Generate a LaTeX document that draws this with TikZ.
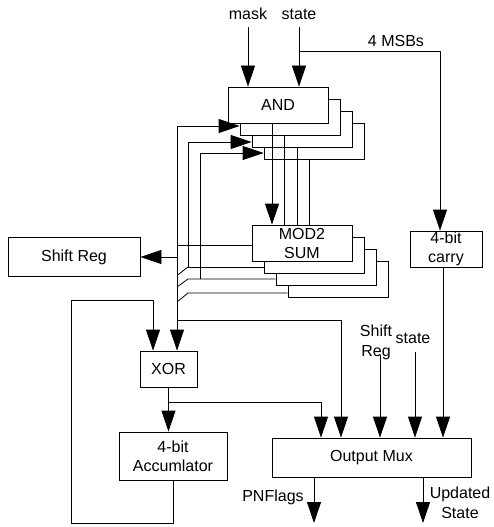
\documentclass[tikz,border=0pt]{standalone}
\usepackage{fontspec}
\setmainfont{Liberation Sans}
\usetikzlibrary{arrows.meta}
\begin{document}
\begin{tikzpicture}[x=1pt,y=-1pt,
  box/.style={draw, fill=white, line width=0.8pt, inner sep=0pt, align=center, font=\fontsize{16}{19}\selectfont},
  stk/.style={box, minimum width=100pt, minimum height=36pt},
  wire/.style={line width=0.8pt},
  arr/.style={wire, -{Triangle[length=21pt,width=14pt]}},
  lbl/.style={inner sep=0pt, align=center, font=\fontsize{16}{19.5}\selectfont}]
\useasboundingbox (0,0) rectangle (493,527);
% AND stack
\node[stk] (and4) at (314,141) {};
\node[stk] (and3) at (302,129) {};
\node[stk] (and2) at (290,117) {};
\node[stk] (and1) at (278,105) {AND};
% MOD2 SUM stack
\node[stk] (sum4) at (338,279) {};
\node[stk] (sum3) at (326,267) {};
\node[stk] (sum2) at (314,255) {};
\node[stk] (sum1) at (302,243) {MOD2\\SUM};
% other blocks
\node[box, minimum width=132pt, minimum height=39pt] (shift) at (74,257) {Shift Reg};
\node[box, minimum width=57pt, minimum height=36pt] (xor) at (168.5,369) {XOR};
\node[box, minimum width=108pt, minimum height=48pt] (acc) at (173,456) {4-bit\\Accumlator};
\node[box, minimum width=199pt, minimum height=39pt] (mux) at (371.5,457.5) {Output Mux};
\node[box, minimum width=72pt, minimum height=36pt] (carry) at (446,249) {4-bit\\carry};
% labels
\node[lbl, anchor=base] (mask) at (248,20) {mask};
\node[lbl, anchor=base] (st) at (299,20) {state};
\node[lbl, anchor=base] (msbs) at (396,46.5) {4 MSBs};
\node[lbl] (srl) at (376,342.5) {Shift\\Reg};
\node[lbl, anchor=base] (st2) at (413,343.3) {state};
\node[lbl, anchor=base] (pnf) at (273,501.5) {PNFlags};
\node[lbl] (upd) at (460,503) {Updated\\State};
% top inputs
\draw[arr] ([yshift=-7pt]mask.south) -- (mask.south |- and1.north);
\draw[arr] ([yshift=-7pt]st.south) -- (st.south |- and1.north);
\coordinate (sj) at (299,51);
\coordinate (msb) at (440,51);
\draw[wire] (sj) -- (msb);
\draw[arr] (msb) -- (msb |- carry.north);
% feedback arrows into AND stack
\coordinate (L1) at (177,126);
\coordinate (L2) at (188,142);
\coordinate (L3) at (200,153);
\draw[arr] (L1) -- (L1 -| and2.west);
\draw[arr] (L2) -- (L2 -| and3.west);
\draw[arr] (L3) -- (L3 -| and4.west);
% AND -> MOD2 SUM
\draw[arr] (and1.south -| 272,0) -- (sum1.north -| 272,0);
\draw[wire] (and2.south -| 284,0) -- (sum1.north -| 284,0);
\draw[wire] (and3.south -| 297,0) -- (sum1.north -| 297,0);
\draw[wire] (and4.south -| 309,0) -- (sum1.north -| 309,0);
% MOD2 SUM outputs
\draw[wire] (177,245) -- (sum1.west |- 0,245);
\draw[wire] (L2) |- (sum2.west |- 0,267);
\draw[wire] (188,267) -- (177,275.5);
\draw[wire] (L3) -- (200,279);
\draw[wire] (177,287) -- (188,279) -- (sum3.west |- 0,279);
\draw[wire] (177,302) -- (188,293) -- (sum4.west |- 0,293);
\draw[arr] (177,257) -- (shift.east);
% main vertical into XOR
\draw[arr] (L1) -- (L1 |- xor.north);
% line to mux
\coordinate (m2) at (341,320);
\draw[arr] (177,320) -- (m2) -- (m2 |- mux.north);
% XOR -> accumulator, branch to mux
\draw[arr] (xor.south) -- (xor.south |- acc.north);
\coordinate (xb) at (168.5,402);
\coordinate (m1) at (321,402);
\draw[arr] (xb) -- (m1) -- (m1 |- mux.north);
% accumulator feedback
\coordinate (fb) at (153,300);
\draw[arr] (acc.south) |- (71,523) |- (fb) -- (fb |- xor.north);
% other mux inputs
\draw[arr] (380,355) -- (mux.north -| 380,0);
\draw[arr] (415,352) -- (mux.north -| 415,0);
\draw[arr] (carry.south -| 443,0) -- (mux.north -| 443,0);
% mux outputs
\draw[arr] (mux.south -| 314,0) -- (314,523);
\draw[arr] (mux.south -| 423,0) -- (423,523);
\end{tikzpicture}
\end{document}
